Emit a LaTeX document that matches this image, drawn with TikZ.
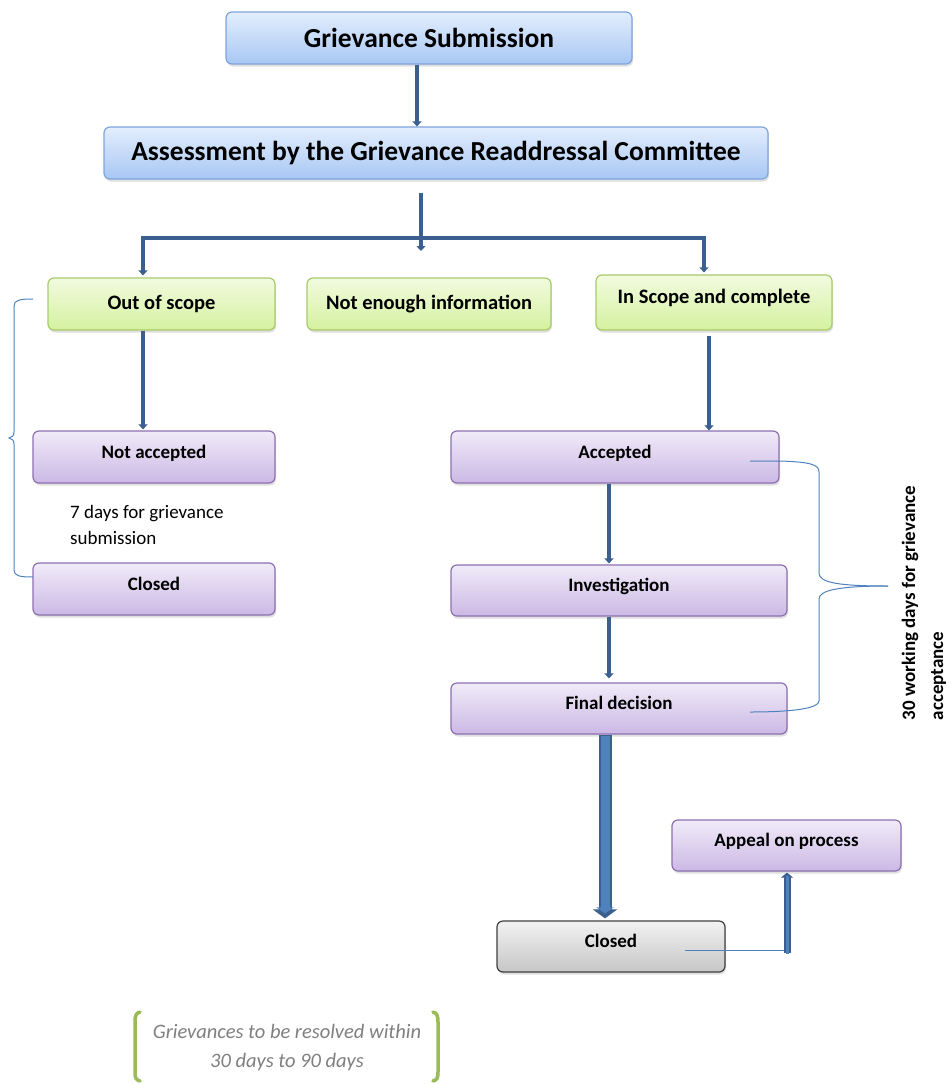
\documentclass[tikz,border=0pt]{standalone}
\usepackage{fontspec}
\setmainfont{Carlito}
\usetikzlibrary{arrows.meta,shadows,calc}
\definecolor{arrdark}{HTML}{3B5F8E}
\definecolor{arrlight}{HTML}{4F81BD}
\definecolor{bracecol}{HTML}{4F81BD}
\definecolor{bluetop}{HTML}{E3EEFD}
\definecolor{bluebot}{HTML}{A8C7F4}
\definecolor{blueline}{HTML}{7EA4DC}
\definecolor{greentop}{HTML}{F2FBE0}
\definecolor{greenbot}{HTML}{D4F19F}
\definecolor{greenline}{HTML}{A7CB6B}
\definecolor{purptop}{HTML}{F0EBF8}
\definecolor{purpbot}{HTML}{CCB8E5}
\definecolor{purpline}{HTML}{8D70B0}
\definecolor{graytop}{HTML}{F2F2F2}
\definecolor{graybot}{HTML}{C6C6C6}
\definecolor{grayline}{HTML}{3F3F3F}
\definecolor{brgreen}{HTML}{9BBB59}
\definecolor{notegray}{HTML}{7F7F7F}
\tikzset{
  boxbase/.style={rectangle, rounded corners=6pt, line width=1.2pt, inner sep=0pt,
    drop shadow={shadow xshift=1pt, shadow yshift=-2.5pt, opacity=0.25}},
  bluebox/.style={boxbase, draw=blueline, top color=bluetop, bottom color=bluebot,
    font=\bfseries\fontsize{27.5}{30}\selectfont},
  greenbox/.style={boxbase, draw=greenline, top color=greentop, bottom color=greenbot,
    font=\bfseries\fontsize{20.5}{24}\selectfont},
  purpbox/.style={boxbase, draw=purpline, top color=purptop, bottom color=purpbot,
    font=\bfseries\fontsize{19}{22}\selectfont, text height=12pt, text depth=10pt},
  graybox/.style={boxbase, draw=grayline, top color=graytop, bottom color=graybot,
    font=\bfseries\fontsize{19}{22}\selectfont, text height=12pt, text depth=10pt},
  conn/.style={draw=arrdark, line width=4.5pt},
  arr/.style={conn, -{Triangle[width=9pt,length=5pt]}},
  thinline/.style={draw=bracecol, line width=1pt},
}
\begin{document}
\begin{tikzpicture}[x=1pt,y=-1pt]
\useasboundingbox (0,0) rectangle (949,1084);

% nodes
\node[bluebox, minimum width=406pt, minimum height=52pt] (gs) at (429,38) {Grievance Submission};
\node[bluebox, minimum width=664pt, minimum height=52pt] (as) at (436,153) {Assessment by the Grievance Readdressal Committee};
\node[greenbox, minimum width=227pt, minimum height=52pt] (oos) at (161.5,304) {Out of scope};
\node[greenbox, minimum width=244pt, minimum height=52pt] (nei) at (429,304) {Not enough information};
\node[greenbox, minimum width=236pt, minimum height=55pt, text height=12pt, text depth=10pt] (isc) at (714,302.5) {In Scope and complete};
\node[purpbox, minimum width=242pt, minimum height=52pt] (na) at (154,457) {Not accepted};
\node[purpbox, minimum width=242pt, minimum height=52pt] (cl1) at (154,589) {Closed};
\node[purpbox, minimum width=328pt, minimum height=52pt] (acc) at (615,457) {Accepted};
\node[purpbox, minimum width=336pt, minimum height=51pt] (inv) at (619,590.5) {Investigation};
\node[purpbox, minimum width=336pt, minimum height=51pt] (fd) at (619,708.5) {Final decision};
\node[graybox, minimum width=228pt, minimum height=51pt] (cl2) at (611,946.5) {Closed};
\node[purpbox, minimum width=229pt, minimum height=51pt] (ap) at (786.5,845.5) {Appeal on process};

% helper coordinates
\coordinate (c1) at (417,0);
\coordinate (split) at (421,238);
\coordinate (bl) at (143,238);
\coordinate (br) at (704,238);
\coordinate (c709) at (709,0);
\coordinate (c609) at (609,0);
\coordinate (c605) at (605,0);
\coordinate (c787) at (787,950);
\coordinate (c685) at (685,950);

% connectors
\draw[arr] (c1 |- gs.south) -- (c1 |- as.north);
\draw[conn, shorten <=13pt] (split |- as.south) -- (split);
\draw[conn, line cap=rect] (bl) -- (br);
\draw[arr] (bl) -- ([yshift=2pt]bl |- oos.north);
\draw[arr] (split) -- ++(0,13);
\draw[arr] (br) -- ([yshift=2pt]br |- isc.north);
\draw[arr] (bl |- oos.south) -- ([yshift=1pt]bl |- na.north);
\draw[arr, shorten <=5pt] (c709 |- isc.south) -- (c709 |- acc.north);
\draw[arr] (c609 |- acc.south) -- ([yshift=1pt]c609 |- inv.north);
\draw[arr] (c609 |- inv.south) -- ([yshift=4pt]c609 |- fd.north);

% big arrow final decision -> closed
\draw[draw=arrdark, line width=13pt, -{Triangle[width=24pt,length=9pt]}] (c605 |- fd.south) -- ([yshift=2pt]c605 |- cl2.north);
\draw[draw=arrlight, line width=9pt, shorten >=5pt, -{Triangle[width=17pt,length=6pt]}] ([yshift=-1pt]c605 |- fd.south) -- ([yshift=2pt]c605 |- cl2.north);

% closed -> appeal
\draw[thinline] (c685) -- (c787);
\draw[draw=arrdark, line width=7pt, -{Triangle[width=12pt,length=5pt]}] ([yshift=-3pt]c787) -- ([yshift=-1pt]c787 |- ap.south);
\draw[draw=arrlight, line width=3pt, shorten >=3pt] ([yshift=-4pt]c787) -- ([yshift=-1pt]c787 |- ap.south);

% left bracket
\draw[thinline] (33,299) .. controls (20,299) and (14,300) .. (14,306) -- (14,432)
  .. controls (14,436) and (12,437) .. (9,438) .. controls (12,439) and (14,440) .. (14,444)
  -- (14,570) .. controls (14,576) and (20,577) .. (33,577);

% right brace
\draw[thinline] (750,461) -- (780,461) .. controls (812,462) and (819,465) .. (819,472) -- (819,573)
  .. controls (819,583) and (840,586) .. (888,586);
\draw[thinline] (888,586) .. controls (840,586) and (819,590) .. (819,599) -- (819,701)
  .. controls (819,708) and (795,712) .. (750,712);

% annotations
\node[anchor=north west, align=left, font=\fontsize{19}{26}\selectfont, inner sep=0pt] (t7) at (70,505) {7 days for grievance\\submission};
\node[rotate=90, align=left, font=\bfseries\fontsize{19}{28}\selectfont, inner sep=0pt] (t30) at (924,603) {30 working days for grievance\\acceptance};

% bottom note
\draw[brgreen, line width=3.5pt, line cap=round] (140,1012) .. controls (136,1013) and (135,1016) .. (135,1022) -- (135,1072) .. controls (135,1078) and (136,1080) .. (140,1081);
\draw[brgreen, line width=3.5pt, line cap=round] (433,1012) .. controls (437,1013) and (438,1016) .. (438,1022) -- (438,1072) .. controls (438,1078) and (437,1080) .. (433,1081);
\node[align=center, text=notegray, font=\itshape\fontsize{20.5}{29}\selectfont, inner sep=0pt] (note) at (287,1048) {Grievances to be resolved within\\30 days to 90 days};
\end{tikzpicture}
\end{document}
